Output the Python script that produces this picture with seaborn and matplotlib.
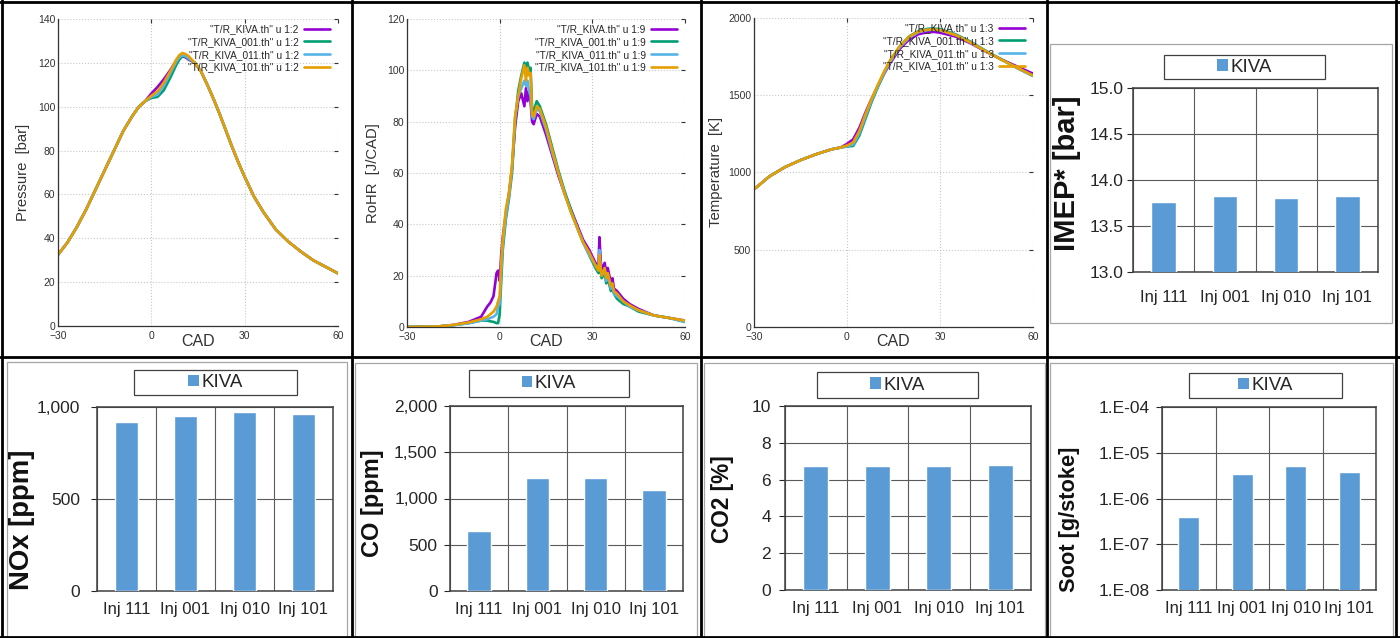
import numpy as np
import pandas as pd
import matplotlib
matplotlib.use("Agg")
import matplotlib.pyplot as plt
import seaborn as sns
from matplotlib.patches import Rectangle, Patch
from matplotlib.lines import Line2D
from matplotlib.ticker import FuncFormatter, NullLocator

sns.set_style("white")
plt.rcParams['font.family'] = ['Liberation Sans', 'DejaVu Sans']

# ---- line data (KIVA runs) ----
cases = ['KIVA', '001', '011', '101']
line_cols = {'KIVA': '#9400d3', '001': '#009e73', '011': '#56b4e9', '101': '#e69f00'}

# pressure [bar]
cad_p = [-30, -27, -24, -21, -18, -15, -12, -9, -6, -4, -2,
         0, 2, 4, 6, 8, 9, 10, 11, 12,
         14, 16, 18, 20, 22, 24, 26, 28, 30, 33, 36, 40, 44, 48, 52, 56, 60]
p_pre = [32.5, 38, 45, 53, 62, 71, 80, 89, 96, 100, 102.5]
p_post = [120, 116, 110, 103.5, 96.5, 89, 81.5, 74.5, 68, 59, 52, 44, 38.5, 34, 30, 27, 24]
p_kiva = [106, 109, 112.5, 116.5, 121, 122.5, 123, 122.5, 121.5]
p_001 = [104, 104.5, 107.5, 113, 119, 121.5, 123, 123, 122]
p_011 = [104.5, 105.5, 109.5, 115, 120.5, 122.5, 123.5, 123, 122]
p_101 = [105, 107, 111, 116, 121.5, 123.5, 124.5, 124, 123]

# rate of heat release [J/CAD]
cad_r = [-30, -20, -15, -10, -6, -4, -3, -2, -1, -0.5, 0, 0.5, 1, 2, 3, 4, 5, 6, 7, 8,
         8.5, 9, 9.5, 10, 10.5, 11, 12, 13, 15, 17, 19, 21, 23, 25, 27, 29, 31, 32,
         32.3, 32.7, 33, 34, 34.5, 35, 36, 36.5, 37, 38, 40, 42, 45, 50, 55, 60]
r_kiva = [0, 0.2, 0.8, 2, 4, 8, 9.5, 12, 21, 22, 18, 28, 35, 44, 52, 62, 78, 88, 91, 86,
          93, 88, 92, 88, 80, 79, 83, 82, 75, 67, 59, 52, 46, 40, 34, 30, 25, 24,
          35, 26, 22, 25, 21, 23, 17, 19, 15, 14, 11, 9, 7, 4.5, 3.5, 2.5]
r_001 = [0, 0.2, 0.7, 1.5, 2.5, 2.5, 2.2, 2, 1.5, 1.5, 5, 18, 30, 42, 50, 60, 80, 92, 98, 103,
         101, 103, 100, 101, 85, 84, 88, 86, 79, 70, 61, 53, 46, 39, 33, 28, 23, 21,
         24, 22, 19, 21, 17, 19, 14, 15, 13, 11, 9, 8, 6, 4.5, 3.5, 2]
r_011 = [0, 0.2, 0.7, 1.5, 2.5, 3, 3.5, 4, 5, 8, 9, 22, 32, 43, 51, 62, 82, 90, 93, 96,
         94, 96, 92, 90, 82, 81, 85, 84, 77, 68, 60, 52, 45, 39, 33, 28, 24, 22,
         30, 23, 20, 22, 18, 20, 15, 16, 13, 12, 10, 8, 6.5, 4.5, 3.5, 2]
r_101 = [0, 0.2, 0.8, 1.8, 3, 4, 5, 6, 8, 10, 12, 25, 34, 46, 52, 63, 82, 90, 97, 102,
         96, 101, 98, 99, 83, 82, 86, 85, 78, 69, 60, 52, 45, 39, 33, 29, 24, 22,
         28, 23, 20, 23, 19, 21, 16, 17, 14, 13, 10, 8.5, 6.5, 4.5, 3.5, 2.5]

# temperature [K]
cad_t = [-30, -25, -20, -15, -10, -5, -2,
         0, 2, 4, 6, 8, 10, 12, 14, 17, 20, 23, 26, 28, 30, 35, 40, 45, 50, 55, 60]
t_pre = [891, 975, 1035, 1080, 1118, 1150, 1162]
t_kiva = [1185, 1215, 1290, 1390, 1480, 1560, 1640, 1710, 1800, 1860, 1895, 1908, 1910, 1905, 1880, 1835, 1780, 1730, 1685, 1640]
t_001 = [1168, 1172, 1240, 1350, 1460, 1555, 1645, 1725, 1815, 1880, 1915, 1930, 1932, 1928, 1895, 1845, 1785, 1730, 1675, 1625]
t_011 = [1170, 1180, 1255, 1365, 1470, 1560, 1645, 1720, 1810, 1872, 1908, 1922, 1924, 1920, 1890, 1840, 1782, 1728, 1675, 1625]
t_101 = [1175, 1195, 1270, 1380, 1480, 1570, 1655, 1730, 1818, 1878, 1912, 1925, 1926, 1922, 1890, 1840, 1782, 1728, 1677, 1628]

# ---- bar data ----
inj = ['Inj 111', 'Inj 001', 'Inj 010', 'Inj 101']
imep = [13.76, 13.83, 13.80, 13.83]
nox = [921, 951, 975, 964]
co = [646, 1224, 1222, 1087]
co2 = [6.75, 6.75, 6.75, 6.80]
soot = [4.0e-7, 3.4e-6, 5.2e-6, 3.8e-6]
bar_col = '#5b9bd5'

W, H = 1400, 638
fig = plt.figure(figsize=(W / 100, H / 100), dpi=100)


def px(x0, y0, x1, y1):
    return [x0 / W, 1 - y1 / H, (x1 - x0) / W, (y1 - y0) / H]


def frame_box(x0, y0, x1, y1, ec, lw, z=0):
    fig.add_artist(Rectangle((x0 / W, 1 - y1 / H), (x1 - x0) / W, (y1 - y0) / H,
                             transform=fig.transFigure, fill=False, ec=ec, lw=lw, zorder=z))


def curve_panel(rect, cad, series, ylim, yticks, ylabel, col, ylab_pos):
    ax = fig.add_axes(px(*rect))
    df = pd.concat([pd.DataFrame({'CAD': cad, 'val': v, 'case': c}) for c, v in zip(cases, series)])
    sns.lineplot(data=df, x='CAD', y='val', hue='case', hue_order=cases, palette=line_cols,
                 ax=ax, lw=1.9, legend=False, estimator=None, sort=False)
    ax.set_xlim(-30, 60)
    ax.set_ylim(*ylim)
    ax.set_xticks([-30, 0, 30, 60])
    ax.set_yticks(yticks)
    ax.grid(True, color='#c8c8c8', ls=':', lw=0.8)
    for s in ['top', 'right']:
        ax.spines[s].set_visible(False)
    for s in ['left', 'bottom']:
        ax.spines[s].set_color('#333333')
        ax.spines[s].set_linewidth(0.9)
    ax.tick_params(direction='in', length=3, labelsize=7.5, colors='#333333', pad=2,
                   right=True, top=True)
    ax.tick_params(axis='x', pad=3.5)
    ax.set_xlabel('')
    ax.set_ylabel('')
    fig.text((rect[0] + rect[2]) / 2 / W, 1 - 342 / H, 'CAD', ha='center', va='center',
             fontsize=11.5, color='#333333')
    fig.text(ylab_pos[0] / W, 1 - ylab_pos[1] / H, ylabel, ha='center', va='center',
             rotation=90, fontsize=10.7, color='#333333')
    sufs = {'KIVA': '', '001': '_001', '011': '_011', '101': '_101'}
    handles = [Line2D([], [], color=line_cols[c], lw=1.9) for c in cases]
    labels = ['"T/R_KIVA%s.th" u 1:%d' % (sufs[c], col) for c in cases]
    ax.legend(handles, labels, loc='upper right', bbox_to_anchor=(0.99, 1.0), frameon=False,
              markerfirst=False, fontsize=7.3, labelspacing=0.28, handlelength=2.6,
              handletextpad=0.5, borderaxespad=0.1)
    return ax


def bar_panel(rect, vals, ylim, yticks, fmt, ylabel, ylab_pos, ylab_size, legend_box,
              inner_box, xpad, ypad, log=False):
    frame_box(*inner_box, ec='#a6a6a6', lw=0.9)
    ax = fig.add_axes(px(*rect))
    sns.barplot(x=inj, y=vals, color=bar_col, saturation=1, width=0.4, ax=ax, zorder=3)
    if log:
        ax.set_yscale('log')
        ax.yaxis.set_minor_locator(NullLocator())
    ax.set_ylim(*ylim)
    ax.set_yticks(yticks)
    ax.yaxis.set_major_formatter(FuncFormatter(fmt))
    ax.set_xlim(-0.5, 3.5)
    ax.set_xticks([-0.5, 0.5, 1.5, 2.5, 3.5], minor=True)
    ax.grid(True, axis='y', which='major', color='#5a5a5a', lw=0.8)
    ax.grid(True, axis='x', which='minor', color='#5a5a5a', lw=0.8)
    ax.set_axisbelow(True)
    for s in ax.spines.values():
        s.set_color('#404040')
        s.set_linewidth(1.1)
    ax.tick_params(axis='x', which='major', length=0, labelsize=12, pad=xpad, colors='#262626')
    ax.tick_params(axis='x', which='minor', length=4, direction='out', color='#595959')
    ax.tick_params(axis='y', which='major', length=4, direction='out', labelsize=12.5,
                   pad=ypad, colors='#262626', left=True)
    ax.set_xlabel('')
    ax.set_ylabel('')
    fig.text(ylab_pos[0] / W, 1 - ylab_pos[1] / H, ylabel, ha='center', va='center',
             rotation=90, fontsize=ylab_size, fontweight='bold', color='#111111')
    x0, y0, x1, y1 = legend_box
    fig.add_artist(Rectangle((x0 / W, 1 - y1 / H), (x1 - x0) / W, (y1 - y0) / H,
                             transform=fig.transFigure, fc='white', ec='#404040', lw=0.9))
    fig.legend([Patch(facecolor=bar_col, edgecolor='none')], ['KIVA'], loc='center',
               bbox_to_anchor=((x0 + x1) / 2 / W, 1 - (y0 + y1) / 2 / H), frameon=False,
               fontsize=13.5, handlelength=0.55, handleheight=0.55, handletextpad=0.15,
               borderpad=0, labelcolor='#262626')
    return ax


# ---- top row: gnuplot curves ----
curve_panel((58, 19, 338, 326), cad_p,
            [p_pre + m + p_post for m in (p_kiva, p_001, p_011, p_101)],
            (0, 140), range(0, 141, 20), 'Pressure  [bar]', 2, (23, 172))
curve_panel((407, 19, 685, 327), cad_r, [r_kiva, r_001, r_011, r_101],
            (0, 120), range(0, 121, 20), 'RoHR  [J/CAD]', 9, (373, 173))
curve_panel((754, 18, 1033, 327), cad_t,
            [t_pre + m for m in (t_kiva, t_001, t_011, t_101)],
            (0, 2000), range(0, 2001, 500), 'Temperature  [K]', 3, (716, 172))

# ---- bar charts ----
bar_panel((1133, 88, 1378, 272), imep, (13, 15), [13, 13.5, 14, 14.5, 15],
          lambda v, _: '%.1f' % v, 'IMEP* [bar]', (1067, 173), 21,
          (1164, 55, 1325, 79), (1050, 44, 1392, 323), 13, 3)
bar_panel((97, 407, 333, 591), nox, (0, 1000), [0, 500, 1000],
          lambda v, _: '{:,.0f}'.format(v), 'NOx [ppm]', (22, 520), 19.8,
          (134, 370, 297, 395), (7, 362, 347, 650), 8, 8)
bar_panel((450, 406, 683, 591), co, (0, 2000), [0, 500, 1000, 1500, 2000],
          lambda v, _: '{:,.0f}'.format(v), 'CO [ppm]', (373, 503), 17,
          (469, 370, 629, 397), (355, 363, 697, 650), 8, 5)
bar_panel((785, 406, 1031, 590), co2, (0, 10), [0, 2, 4, 6, 8, 10],
          lambda v, _: '%d' % round(v), 'CO2 [%]', (723, 499), 16.3,
          (817, 372, 978, 398), (704, 363, 1045, 650), 8, 6)
bar_panel((1162, 407, 1376, 590), soot, (1e-8, 1e-4), [1e-8, 1e-7, 1e-6, 1e-5, 1e-4],
          lambda v, _: '1.E-%02d' % round(-np.log10(v)), 'Soot [g/stoke]', (1070, 519), 15.7,
          (1189, 373, 1342, 398), (1050, 363, 1393, 650), 8, 4.5, log=True)

# ---- table cell borders ----
for x in [2, 351.5, 700.5, 1047, 1396]:
    fig.add_artist(Line2D([x / W, x / W], [0, 1], transform=fig.transFigure, color='black', lw=2))
for y in [1.5, 356.5, 636.5]:
    fig.add_artist(Line2D([0, 1], [1 - y / H, 1 - y / H], transform=fig.transFigure, color='black', lw=2))

fig.savefig('out.png', dpi=100, facecolor='white')
